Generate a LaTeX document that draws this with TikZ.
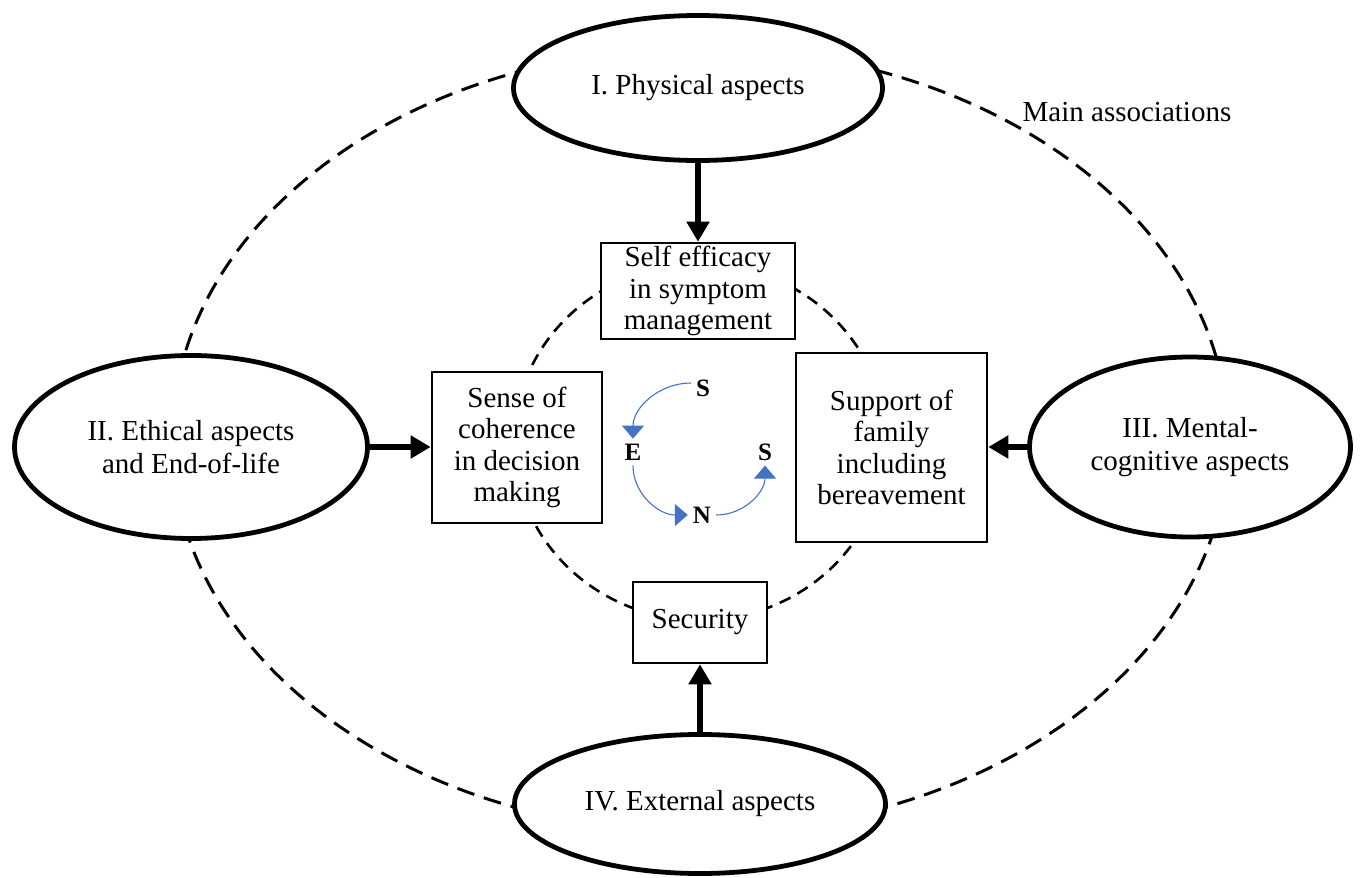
\documentclass[tikz,border=0pt]{standalone}
\usepackage{fontspec}
\setmainfont{Liberation Serif}
\usetikzlibrary{shapes.geometric,arrows.meta}
\definecolor{sensblue}{HTML}{4472C4}
\begin{document}
\begin{tikzpicture}[x=1pt,y=-1pt,
  aspect/.style={ellipse, draw, line width=4.8pt, fill=white, inner sep=0pt, align=center,
    font=\fontsize{29}{33}\selectfont},
  factor/.style={rectangle, draw, line width=2.6pt, fill=white, inner sep=0pt, align=center,
    font=\fontsize{29}{31.5}\selectfont},
  mainarrow/.style={line width=6.5pt, -{Triangle[length=20pt,width=22pt]}},
  outerdash/.style={line width=3pt, dash pattern=on 18pt off 10pt},
  innerdash/.style={line width=2.6pt, dash pattern=on 12pt off 8pt},
  sensl/.style={font=\fontsize{25}{25}\selectfont\bfseries, inner sep=5pt},
  sensa/.style={draw=sensblue, line width=1.1pt, -{Triangle[length=13pt,width=22pt,fill=sensblue]}},
  lbl/.style={font=\fontsize{29}{33}\selectfont, inner sep=0pt}]
\useasboundingbox (0,0) rectangle (1361,878);
% dashed rings
\draw[outerdash] (700,440) ellipse [x radius=528pt, y radius=392pt];
\draw[innerdash] (700,442) ellipse [x radius=186pt, y radius=178pt];
% aspects
\node[aspect, minimum width=369pt, minimum height=145pt] (phys) at (698,88) {I. Physical aspects};
\node[aspect, minimum width=353pt, minimum height=183pt] (eth) at (191,447) {II. Ethical aspects\\and End-of-life};
\node[aspect, minimum width=321pt, minimum height=180pt] (ment) at (1190,447) {III. Mental-\\cognitive aspects};
\node[aspect, minimum width=371pt, minimum height=139pt] (ext) at (700,804) {IV. External aspects};
% factors
\node[factor, minimum width=194pt, minimum height=96pt] (self) at (698,291) {Self efficacy\\in symptom\\management};
\node[factor, minimum width=170pt, minimum height=151pt] (soc) at (517,447.5) {Sense of\\coherence\\in decision\\making};
\node[factor, minimum width=191pt, minimum height=189pt] (fam) at (891.5,447.5) {Support of\\family\\including\\bereavement};
\node[factor, minimum width=134pt, minimum height=81pt] (sec) at (700,622.5) {Security};
% label
\node[lbl] (mainlab) at (1127,112) {Main associations};
% main arrows
\draw[mainarrow] (phys.south) -- (self.north);
\draw[mainarrow] (eth.east) -- (eth.east -| soc.west);
\draw[mainarrow] (ment.west) -- (ment.west -| fam.east);
\draw[mainarrow] (ext.north) -- (sec.south);
% SENS cycle
\node[sensl] (s1) at (703,388) {S};
\node[sensl] (e) at (633,452) {E};
\node[sensl] (s2) at (765,452) {S};
\node[sensl] (n) at (702,515) {N};
\draw[sensa] ([yshift=5pt]s1.west) to[out=180,in=90] (e.north);
\draw[sensa] (e.south) to[out=-90,in=180] (n.west);
\draw[sensa] (n.east) to[out=0,in=-90] (s2.south);
\end{tikzpicture}
\end{document}
